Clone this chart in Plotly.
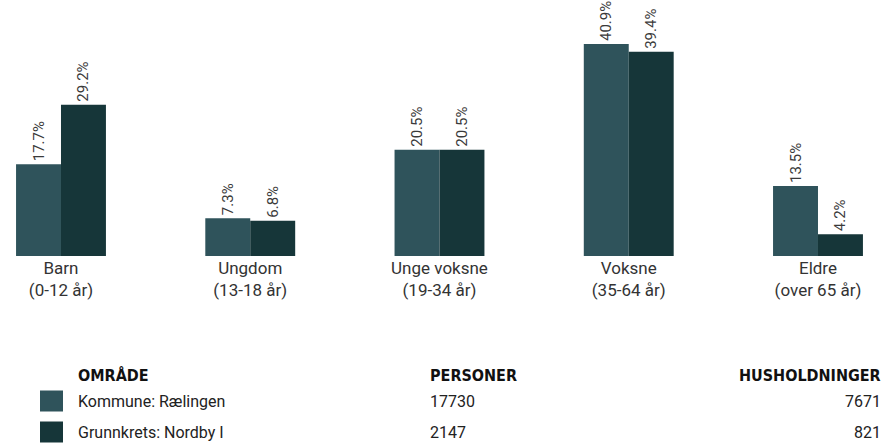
import plotly.graph_objects as go

categories = ["Barn<br>(0-12 år)", "Ungdom<br>(13-18 år)", "Unge voksne<br>(19-34 år)",
              "Voksne<br>(35-64 år)", "Eldre<br>(over 65 år)"]
series_names = ["Kommune: Rælingen", "Grunnkrets: Nordby I"]
kommune = [17.7, 7.3, 20.5, 40.9, 13.5]
grunnkrets = [29.2, 6.8, 20.5, 39.4, 4.2]
personer = [17730, 2147]
husholdninger = [7671, 821]
headers = ["OMRÅDE", "PERSONER", "HUSHOLDNINGER"]

colors = ["#2f535b", "#163639"]
FONT = "Roboto, sans-serif"
HFONT = "DejaVu Sans Condensed, DejaVu Sans, sans-serif"
xpos = list(range(len(categories)))

W, H, B = 884, 446, 190
PH = H - B  # plot area height in px

fig = go.Figure()
for name, vals, col in zip(series_names, [kommune, grunnkrets], colors):
    fig.add_trace(go.Bar(
        x=xpos, y=vals, name=name, marker=dict(color=col, line=dict(width=0)),
        text=[f"{v:.1f}%" for v in vals], textposition="outside", textangle=-90,
        textfont=dict(family=FONT, size=15, color="#3a3a3a"), cliponaxis=False,
        showlegend=False,
    ))

fig.update_layout(
    width=W, height=H, margin=dict(l=0, r=0, t=0, b=B, pad=0),
    barmode="group", bargap=0.525, bargroupgap=0,
    plot_bgcolor="white", paper_bgcolor="white",
    font=dict(family=FONT),
    xaxis=dict(range=[-0.3223, 4.3488], tickmode="array", tickvals=xpos, ticktext=categories,
               showgrid=False, zeroline=False, showline=False, ticks="",
               tickfont=dict(size=17, color="#333333"), fixedrange=True),
    yaxis=dict(range=[0, 49.4], visible=False, fixedrange=True),
)


def py(pix):
    # convert pixel row (from top of figure) to paper y (plot-area relative)
    return (PH - pix) / PH


def px(pix):
    return pix / W


hx = [px(76), px(428), px(883)]
hal = ["left", "left", "right"]
for t, x, a in zip(headers, hx, hal):
    fig.add_annotation(text=f"<b>{t}</b>", x=x, y=py(375), xref="paper", yref="paper",
                       xanchor=a, yanchor="middle", showarrow=False,
                       font=dict(family=HFONT, size=16, color="#111111"))
rows_y = [401, 432]
for i, (nm, p, h, col) in enumerate(zip(series_names, personer, husholdninger, colors)):
    yy = rows_y[i]
    fig.add_shape(type="rect", xref="paper", yref="paper",
                  x0=px(40), x1=px(63), y0=py(yy + 10.5), y1=py(yy - 10.5),
                  fillcolor=col, line=dict(width=0))
    for t, x, a in zip([nm, str(p), str(h)], hx, hal):
        fig.add_annotation(text=t, x=x, y=py(yy), xref="paper", yref="paper",
                           xanchor=a, yanchor="middle", showarrow=False,
                           font=dict(family=FONT, size=16, color="#222222"))

fig.write_html("out.html", config={"displayModeBar": False},
               post_script="document.body.style.margin='0px';")
